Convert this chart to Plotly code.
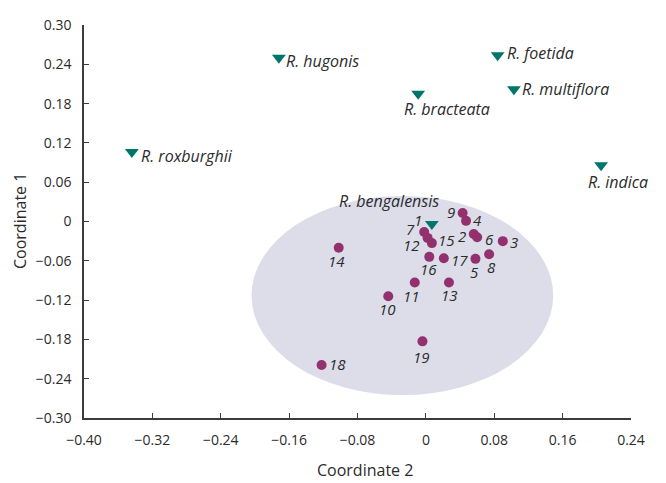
import plotly.graph_objects as go

# ---------------- data ----------------
acc_ids = ["2", "3", "4", "5", "6", "7", "8", "9", "10", "11", "12", "13", "14", "15", "16", "17", "18", "19"]
acc_x = [0.056, 0.090, 0.047, 0.058, 0.060, -0.002, 0.074, 0.043, -0.044, -0.013, 0.002, 0.027, -0.102, 0.007, 0.004, 0.021, -0.122, -0.004]
acc_y = [-0.019, -0.030, 0.001, -0.057, -0.024, -0.016, -0.050, 0.013, -0.114, -0.093, -0.025, -0.093, -0.040, -0.033, -0.054, -0.056, -0.219, -0.183]

species_names = ["R. hugonis", "R. foetida", "R. multiflora", "R. bracteata", "R. roxburghii", "R. indica", "R. bengalensis"]
species_x = [-0.172, 0.084, 0.103, -0.009, -0.344, 0.205, 0.007]
species_y = [0.250, 0.254, 0.202, 0.195, 0.106, 0.086, -0.004]
bengalensis_id = "1"

# ellipse enclosing the R. bengalensis group (data units)
ellipse_x = [-0.204, 0.149]
ellipse_y = [-0.265, 0.039]

x_tickvals = [-0.40, -0.32, -0.24, -0.16, -0.08, 0, 0.08, 0.16, 0.24]
x_ticktext = ["\u22120.40", "\u22120.32", "\u22120.24", "\u22120.16", "\u22120.08", "0", "0.08", "0.16", "0.24"]
y_tickvals = [0.30, 0.24, 0.18, 0.12, 0.06, 0, -0.06, -0.12, -0.18, -0.24, -0.30]
y_ticktext = ["0.30", "0.24", "0.18", "0.12", "0.06", "0", "\u22120.06", "\u22120.12", "\u22120.18", "\u22120.24", "\u22120.30"]

# ---------------- label placement (style only: anchor, dx px, dy px down) ----------------
acc_label_pos = {
    "2": ("right", -6, 2), "3": ("left", 5, 1), "4": ("left", 5, -1), "5": ("center", -1, 13),
    "6": ("left", 6, 2), "7": ("right", -7, -3), "8": ("center", 2, 13), "9": ("right", -6, -1),
    "10": ("center", -1, 13), "11": ("center", -3, 14), "12": ("right", -6, 7), "13": ("center", 1, 13),
    "14": ("center", -2, 13), "15": ("left", 4, -3), "16": ("center", -1, 12), "17": ("left", 5, 2),
    "18": ("left", 5, -1), "19": ("center", -1, 16),
}
species_label_pos = {
    "R. hugonis": ("left", 5, 3), "R. foetida": ("left", 7, -2), "R. multiflora": ("left", 6, 0),
    "R. bracteata": ("center", 29, 15), "R. roxburghii": ("left", 7, 4), "R. indica": ("center", 17, 17),
    "R. bengalensis": ("center", -43, -23),
}

FONT = "Open Sans"
TXT = "#2b2b2b"
AXIS = "#3c3c3c"
PURPLE = "#93306e"
TEAL = "#00766a"
NUM_SIZE = 15
NAME_SIZE = 16

fig = go.Figure()

fig.add_shape(type="circle", xref="x", yref="y",
              x0=ellipse_x[0], x1=ellipse_x[1], y0=ellipse_y[0], y1=ellipse_y[1],
              fillcolor="#dcdde9", line=dict(width=0), layer="below")

fig.add_trace(go.Scatter(x=acc_x, y=acc_y, mode="markers",
                         marker=dict(symbol="circle", size=10, color=PURPLE, line=dict(width=0)),
                         showlegend=False, cliponaxis=False, hoverinfo="skip"))
fig.add_trace(go.Scatter(x=species_x, y=species_y, mode="markers",
                         marker=dict(symbol="triangle-down", size=12, color=TEAL, line=dict(width=0)),
                         showlegend=False, cliponaxis=False, hoverinfo="skip"))


def add_label(text, x, y, pos, size):
    anchor, dx, dy = pos
    fig.add_annotation(x=x, y=y, xref="x", yref="y", text=text, showarrow=False,
                       xanchor=anchor, yanchor="middle", xshift=dx, yshift=-dy,
                       font=dict(family=FONT, size=size, color=TXT, style="italic"))


for i, lab in enumerate(acc_ids):
    add_label(lab, acc_x[i], acc_y[i], acc_label_pos[lab], NUM_SIZE)
for i, name in enumerate(species_names):
    add_label(name, species_x[i], species_y[i], species_label_pos[name], NAME_SIZE)
# "1" label on the R. bengalensis triangle
bi = species_names.index("R. bengalensis")
add_label(bengalensis_id, species_x[bi], species_y[bi], ("right", -8, -4), NUM_SIZE)

fig.update_xaxes(range=[-0.40, 0.24], tickvals=x_tickvals, ticktext=x_ticktext,
                 showgrid=False, zeroline=False, showline=True, linecolor=AXIS, linewidth=1.5,
                 ticks="inside", ticklen=5, tickwidth=1.2, tickcolor=AXIS,
                 tickfont=dict(family=FONT, size=14, color=TXT), ticklabelstandoff=8)
fig.update_yaxes(range=[-0.30, 0.30], tickvals=y_tickvals, ticktext=y_ticktext,
                 showgrid=False, zeroline=False, showline=True, linecolor=AXIS, linewidth=1.5,
                 ticks="inside", ticklen=5, tickwidth=1.2, tickcolor=AXIS,
                 tickfont=dict(family=FONT, size=14, color=TXT), ticklabelstandoff=8)

fig.add_annotation(text="Coordinate 2", xref="paper", yref="paper", x=(365 - 84) / 547, y=(418 - 470) / 393,
                   showarrow=False, xanchor="center", yanchor="middle",
                   font=dict(family=FONT, size=16, color=TXT))
fig.add_annotation(text="Coordinate 1", xref="paper", yref="paper", x=(20 - 84) / 547, y=(418 - 221) / 393,
                   showarrow=False, xanchor="center", yanchor="middle", textangle=-90,
                   font=dict(family=FONT, size=16, color=TXT))

fig.update_layout(width=666, height=483, margin=dict(l=84, r=35, t=25, b=65, autoexpand=False),
                  plot_bgcolor="white", paper_bgcolor="white", showlegend=False, hovermode=False)

fig.write_html("out.html", config={"displayModeBar": False},
               post_script="document.body.style.margin='0';document.body.style.overflow='hidden';")
